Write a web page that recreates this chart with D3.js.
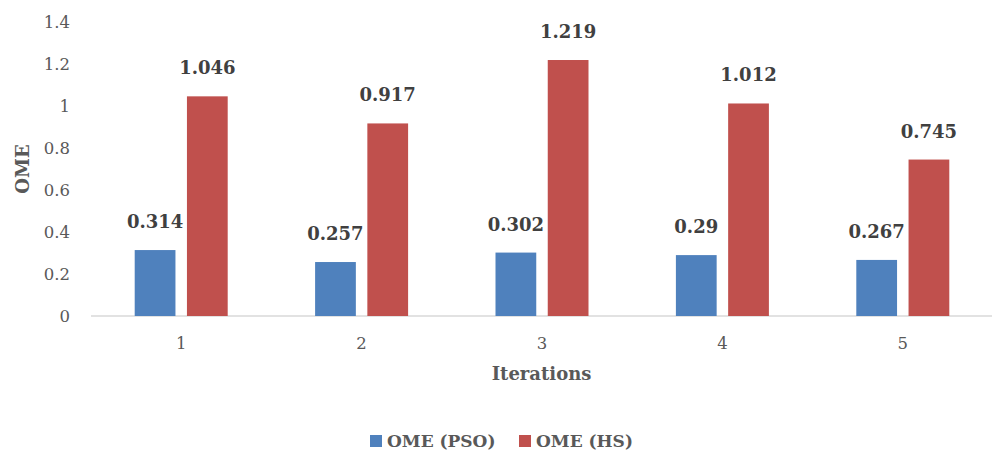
<!DOCTYPE html>
<html>
<head>
<meta charset="utf-8">
<script src="https://cdn.jsdelivr.net/npm/d3@7"></script>
<style>
  html, body { margin: 0; padding: 0; background: #fff; }
  svg { display: block; font-family: "DejaVu Serif", "Liberation Serif", serif; }
</style>
</head>
<body>
<div id="chart"></div>
<script>
// Chart data
const categories = ["1", "2", "3", "4", "5"];
const seriesNames = ["OME (PSO)", "OME (HS)"];
const psoValues = [0.314, 0.257, 0.302, 0.29, 0.267];
const hsValues = [1.046, 0.917, 1.219, 1.012, 0.745];
const yTicks = [0, 0.2, 0.4, 0.6, 0.8, 1, 1.2, 1.4];
const colors = ["#4F81BD", "#C0504D"];

const W = 992, H = 454;
const margin = { left: 91, right: -1, top: 22, bottom: 138 };

const svg = d3.select("#chart").append("svg")
  .attr("width", W).attr("height", H);

const x = d3.scaleBand()
  .domain(categories)
  .range([margin.left, W - margin.right])
  .paddingInner(0).paddingOuter(0);

const y = d3.scaleLinear()
  .domain([0, 1.4])
  .range([H - margin.bottom, margin.top]);

const x1 = d3.scaleBand()
  .domain(seriesNames)
  .range([x.bandwidth() / 2 - 46.5, x.bandwidth() / 2 + 46.5])
  .paddingInner(0.22);

// Y axis tick labels (no axis line, no gridlines)
const yAxis = d3.axisLeft(y).tickValues(yTicks)
  .tickFormat(d => d3.format("~g")(d)).tickSize(0).tickPadding(0);
const gy = svg.append("g").attr("transform", `translate(${70},0)`).call(yAxis);
gy.select(".domain").remove();
gy.selectAll("text").attr("fill", "#595959").attr("font-size", 16.5)
  .attr("font-family", "DejaVu Serif");

// X axis baseline and category labels
const xAxis = d3.axisBottom(x).tickSize(0).tickPadding(21);
const gx = svg.append("g").attr("transform", `translate(0,${y(0)})`).call(xAxis);
gx.select(".domain").attr("stroke", "#D9D9D9").attr("stroke-width", 1.5)
  .attr("d", `M${margin.left},0H${W}`);
gx.selectAll("text").attr("fill", "#595959").attr("font-size", 16.5)
  .attr("font-family", "DejaVu Serif");

// Bars grouped by iteration
const rows = categories.map((c, i) => ({
  cat: c,
  vals: [
    { name: seriesNames[0], v: psoValues[i], color: colors[0] },
    { name: seriesNames[1], v: hsValues[i], color: colors[1] }
  ]
}));

const groups = svg.append("g").selectAll("g")
  .data(rows).join("g")
  .attr("transform", d => `translate(${x(d.cat)},0)`);

groups.selectAll("rect")
  .data(d => d.vals).join("rect")
  .attr("x", d => x1(d.name))
  .attr("width", x1.bandwidth())
  .attr("y", d => y(d.v))
  .attr("height", d => y(0) - y(d.v))
  .attr("fill", d => d.color);

groups.selectAll("text.val")
  .data(d => d.vals).join("text")
  .attr("class", "val")
  .attr("x", d => x1(d.name) + x1.bandwidth() / 2)
  .attr("y", d => y(d.v) - 22)
  .attr("text-anchor", "middle")
  .attr("font-size", 18)
  .attr("font-weight", "bold")
  .attr("fill", "#404040")
  .text(d => d3.format("~g")(d.v));

// Axis titles
svg.append("text")
  .attr("transform", `translate(29,${y(0.7)}) rotate(-90)`)
  .attr("text-anchor", "middle")
  .attr("font-size", 18).attr("font-weight", "bold").attr("fill", "#595959")
  .text("OME");

svg.append("text")
  .attr("x", (margin.left + W) / 2)
  .attr("y", 380)
  .attr("text-anchor", "middle")
  .attr("font-size", 18).attr("font-weight", "bold").attr("fill", "#595959")
  .text("Iterations");

// Legend
const legend = svg.append("g").attr("transform", "translate(0,441)");
const legendX = [370, 519];
seriesNames.forEach((n, i) => {
  const g = legend.append("g").attr("transform", `translate(${legendX[i]},0)`);
  g.append("rect").attr("x", 0).attr("y", -6).attr("width", 12).attr("height", 12)
    .attr("fill", colors[i]);
  g.append("text").attr("x", 17).attr("y", 6)
    .attr("font-size", 17).attr("font-weight", "bold").attr("fill", "#595959")
    .text(n);
});
</script>
</body>
</html>
